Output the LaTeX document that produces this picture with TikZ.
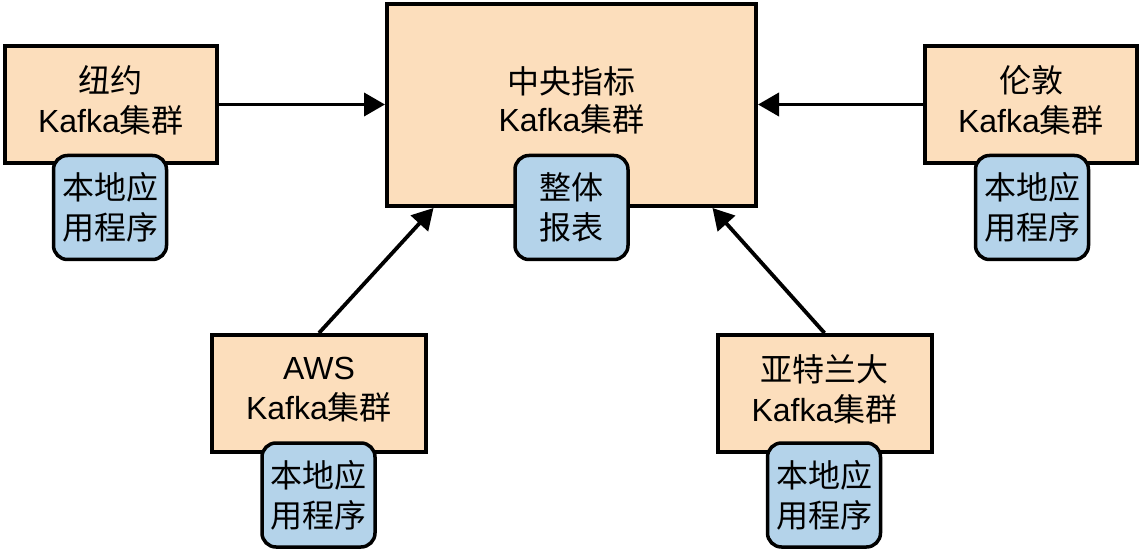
\documentclass[tikz,border=0pt]{standalone}
\usepackage{fontspec}
\setmainfont{Liberation Sans}
\newfontfamily\cjk{Noto Sans CJK SC}
\usetikzlibrary{arrows.meta}
\definecolor{peach}{RGB}{252,222,188}
\definecolor{appblue}{RGB}{180,211,234}
\tikzset{
  cluster/.style={draw=black, line width=4pt, fill=peach, inner sep=0pt, align=center,
    minimum width=212pt, minimum height=117pt, text depth=11pt, font=\fontsize{32}{40}\selectfont},
  appbox/.style={draw=black, line width=3.5pt, fill=appblue, rounded corners=14pt, inner sep=0pt,
    align=center, minimum width=113pt, minimum height=104pt, font=\fontsize{32}{40}\selectfont\cjk},
  label/.style={inner sep=0pt, align=center, font=\fontsize{32}{38}\selectfont},
  flow/.style={line width=3.8pt, -{Triangle[length=21pt,width=23pt]}}
}
\begin{document}
\begin{tikzpicture}[x=1pt,y=-1pt]
\useasboundingbox (0,0) rectangle (1144,553);
% central cluster
\node[cluster, minimum width=369pt, minimum height=202pt, text depth=0pt] (central) at (571.5,105) {};
\node[label] (centraltext) at (571.5,100) {{\cjk 中央指标}\\Kafka{\cjk 集群}};
\node[appbox] (report) at (571.5,207.5) {整体\\报表};
% New York
\node[cluster] (ny) at (111,104.5) {{\cjk 纽约}\\Kafka{\cjk 集群}};
\node[appbox] (nyapp) at (110,207.5) {本地应\\用程序};
% London
\node[cluster] (london) at (1031,104.5) {{\cjk 伦敦}\\Kafka{\cjk 集群}};
\node[appbox] (londonapp) at (1032,207.5) {本地应\\用程序};
% AWS
\node[cluster, minimum width=214pt] (aws) at (319,393.5) {AWS\\Kafka{\cjk 集群}};
\node[appbox] (awsapp) at (318.5,495) {本地应\\用程序};
% Atlanta
\node[cluster, minimum width=214pt] (atl) at (824.5,393.5) {{\cjk 亚特兰大}\\Kafka{\cjk 集群}};
\node[appbox] (atlapp) at (824,495) {本地应\\用程序};
% connectors
\draw[flow] (ny.east) -- (ny.east -| central.west);
\draw[flow] (london.west) -- (london.west -| central.east);
\draw[flow] (aws.north) -- ([xshift=-138pt]central.south);
\draw[flow] (atl.north) -- ([xshift=141pt]central.south);
\end{tikzpicture}
\end{document}
